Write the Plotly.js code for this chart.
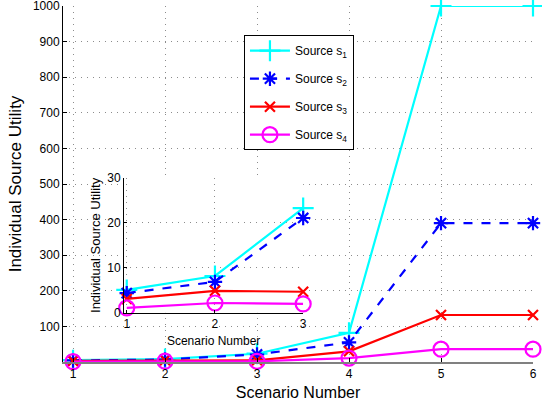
<!DOCTYPE html>
<html>
<head>
<meta charset="utf-8">
<script src="https://cdn.plot.ly/plotly-3.0.1.min.js"></script>
<style>html,body{margin:0;padding:0;background:#fff;}#chart{width:542px;height:404px;}</style>
</head>
<body>
<div id="chart"></div>
<script>
const scenarios = [1, 2, 3, 4, 5, 6];
const source1 = [5.1, 8.2, 23.3, 82, 1000, 1000];
const source2 = [4.4, 6.9, 21.1, 55, 390, 390];
const source3 = [3.1, 4.9, 4.7, 30, 132, 132];
const source4 = [1.1, 2.2, 2.0, 11, 36, 36];
const insetCount = 3;
const yTicks = [100, 200, 300, 400, 500, 600, 700, 800, 900, 1000];
const insetYTicks = [0, 10, 20, 30];
const names = ['Source s<sub>1</sub>', 'Source s<sub>2</sub>', 'Source s<sub>3</sub>', 'Source s<sub>4</sub>'];

const FONT = 'Liberation Sans, Arial, Helvetica, sans-serif';
const GRID = '#8c8c8c';
const DOT = '1px,5px';
const styles = [
  {color: '#00FFFF', symbol: 'cross-thin-open', size: 15, dash: 'solid'},
  {color: '#0000FF', symbol: 'asterisk-open', size: 12, dash: 'dash'},
  {color: '#FF0000', symbol: 'x-thin-open', size: 10, dash: 'solid'},
  {color: '#FF00FF', symbol: 'circle-open', size: 15, dash: 'solid'}
];
const series = [source1, source2, source3, source4];

const traces = [];
series.forEach((ys, i) => {
  const st = styles[i];
  traces.push({
    x: scenarios, y: ys, name: names[i], type: 'scatter', mode: 'lines+markers',
    legendgroup: 'g' + i,
    line: {color: st.color, width: 2.2, dash: st.dash},
    marker: {symbol: st.symbol, size: st.size, color: st.color, line: {color: st.color, width: 2.2}},
    cliponaxis: false, xaxis: 'x', yaxis: 'y', showlegend: true
  });
});
series.forEach((ys, i) => {
  const st = styles[i];
  traces.push({
    x: scenarios.slice(0, insetCount), y: ys.slice(0, insetCount), name: names[i], type: 'scatter', mode: 'lines+markers',
    legendgroup: 'g' + i,
    line: {color: st.color, width: 2.2, dash: st.dash},
    marker: {symbol: st.symbol, size: st.size, color: st.color, line: {color: st.color, width: 2.2}},
    cliponaxis: false, xaxis: 'x2', yaxis: 'y2', showlegend: false
  });
});

const layout = {
  width: 542, height: 404,
  margin: {l: 63, r: 9, t: 6, b: 42},
  paper_bgcolor: '#fff', plot_bgcolor: '#fff',
  font: {family: FONT, size: 12, color: '#000'},
  showlegend: true,
  legend: {
    x: 0.385, y: 0.918, xanchor: 'left', yanchor: 'top',
    bgcolor: '#fff', bordercolor: '#000', borderwidth: 1,
    font: {family: FONT, size: 12, color: '#000'},
    itemwidth: 40, tracegroupgap: 9, traceorder: 'grouped'
  },
  xaxis: {
    domain: [0, 1], range: [0.891, 6], tickvals: scenarios, ticktext: scenarios.map(String),
    showgrid: true, gridcolor: GRID, griddash: DOT, gridwidth: 1,
    showline: true, linecolor: '#808080', linewidth: 1.5,
    ticks: 'inside', ticklen: 4, tickcolor: '#000', zeroline: false,
    ticklabeloverflow: 'allow',
    tickfont: {family: FONT, size: 12},
    title: {text: 'Scenario Number', font: {family: FONT, size: 16}, standoff: 7}
  },
  yaxis: {
    domain: [0, 1], range: [0, 1000], tickvals: yTicks,
    showgrid: true, gridcolor: GRID, griddash: DOT, gridwidth: 1,
    showline: true, linecolor: '#000', linewidth: 1,
    ticks: 'inside', ticklen: 4, tickcolor: '#000', zeroline: false,
    ticklabeloverflow: 'allow',
    tickfont: {family: FONT, size: 12},
    title: {text: 'Individual Source Utility', font: {family: FONT, size: 17}, standoff: 6}
  },
  xaxis2: {
    domain: [0.130, 0.511], range: [0.97, 3.0], anchor: 'y2', tickvals: scenarios.slice(0, insetCount),
    showgrid: true, gridcolor: GRID, griddash: DOT, gridwidth: 1,
    showline: true, linecolor: '#000', linewidth: 1,
    ticks: 'inside', ticklen: 3, tickcolor: '#000', zeroline: false,
    tickfont: {family: FONT, size: 12},
    title: {text: 'Scenario Number', font: {family: FONT, size: 12}, standoff: 6}
  },
  yaxis2: {
    domain: [0.138, 0.517], range: [0, 30], anchor: 'x2', tickvals: insetYTicks,
    showgrid: true, gridcolor: GRID, griddash: DOT, gridwidth: 1,
    showline: true, linecolor: '#000', linewidth: 1,
    ticks: 'inside', ticklen: 3, tickcolor: '#000', zeroline: false,
    tickfont: {family: FONT, size: 12},
    title: {text: 'Individual Source Utility', font: {family: FONT, size: 13}, standoff: 3}
  },
  shapes: [{
    type: 'rect', xref: 'x2 domain', yref: 'y2 domain', x0: 0, x1: 1, y0: 0, y1: 1,
    fillcolor: '#fff', line: {width: 0}, layer: 'below'
  }]
};

Plotly.newPlot('chart', traces, layout, {displayModeBar: false, staticPlot: true});
</script>
</body>
</html>
